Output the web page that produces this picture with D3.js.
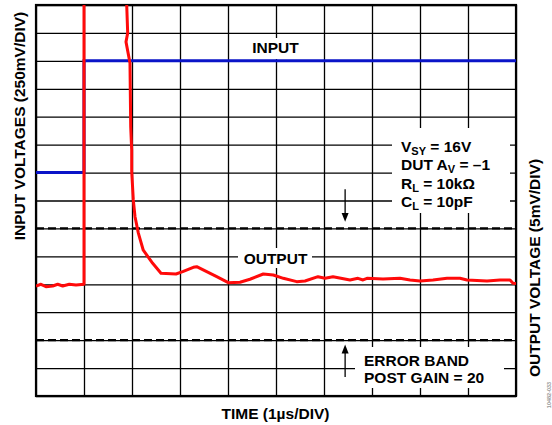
<!DOCTYPE html>
<html><head><meta charset="utf-8">
<script src="https://cdn.jsdelivr.net/npm/d3@7"></script>
<style>
body{margin:0;background:#fff;}
text{font-family:"Liberation Sans",Arial,sans-serif;font-weight:bold;}
</style></head><body>
<svg id="c" width="552" height="425"></svg>
<script>
// time in µs (1 µs/div)
const inputTime = [0, 1, 1, 10];
// input voltage, V (250 mV/div)
const inputVolts = [2.0, 2.0, 3.0, 3.0];
// output time, µs
const outputTime = [0,0.104,0.208,0.348,0.452,0.556,0.694,0.833,1.0,1.0,1.88,
  1.89,1.91,1.875,1.958,1.973,1.994,1.994,2.027,2.063,2.131,2.235,2.431,2.604,2.917,3.056,3.277,3.348,
  3.556,3.765,4.006,4.25,4.458,4.735,4.944,5.152,5.431,5.604,5.875,6.021,6.188,6.542,6.708,6.813,6.896,
  7.229,7.583,7.792,8.0,8.271,8.563,8.833,8.979,9.396,9.667,9.875,9.938,10.0];
// output deviation, mV (5 mV/div)
const outputMilliVolts = [-0.30,0,-0.43,-0.30,0,-0.30,0,-0.13,0,60,60,
  50,45,43.4,39.6,28.2,24.0,20.2,15.1,12.1,9.2,6.1,3.76,1.97,1.84,2.26,3.04,3.15,
  2.26,1.36,0.29,0.36,0.90,1.84,1.66,1.07,0.47,0.59,1.36,1.07,1.36,0.77,1.07,0.77,1.07,
  0.95,1.07,0.77,0.59,0.77,1.07,1.07,0.77,0.59,0.77,0.77,0.18,0.14];
const errorBand = [10, -10];
const xGridTicks = [0,1,2,3,4,5,6,7,8,9,10];
const yGridTicks = [0,0.25,0.5,0.75,1,1.25,1.5,1.75,2,2.25,2.5,2.75,3,3.25,3.5];
const annotation = [["V","SY"," = 16V"],["DUT A","V"," = –1"],["R","L"," = 10kΩ"],["C","L"," = 10pF"]];

const L=36,T=5,R=516,B=396,FS=15.5;
const svg=d3.select("#c");
const x=d3.scaleLinear().domain([0,10]).range([L,R]);
const yIn=d3.scaleLinear().domain([0,3.5]).range([B,T]);
const yOut=d3.scaleLinear().domain([-20,50]).range([B,T]);

// grid
svg.append("g").attr("transform",`translate(0,${B})`)
  .call(d3.axisBottom(x).tickValues(xGridTicks).tickSize(-(B-T)).tickFormat(""))
  .call(g=>{g.select(".domain").remove();g.selectAll("line").attr("stroke","#000").attr("stroke-width",1.3);});
svg.append("g").attr("transform",`translate(${L},0)`)
  .call(d3.axisLeft(yIn).tickValues(yGridTicks).tickSize(-(R-L)).tickFormat(""))
  .call(g=>{g.select(".domain").remove();g.selectAll("line").attr("stroke","#000").attr("stroke-width",1.3);});

// error band dashed lines
svg.selectAll(".eb").data(errorBand).join("line")
  .attr("x1",L).attr("x2",R).attr("y1",d=>yOut(d)).attr("y2",d=>yOut(d))
  .attr("stroke","#000").attr("stroke-width",2.2).attr("stroke-dasharray","8,4");

// white label boxes
const boxes=[[250,38,52,21],[238,248,74,20],[392,128,118,85],[355,347,149,41]];
svg.selectAll(".bx").data(boxes).join("rect")
  .attr("x",d=>d[0]).attr("y",d=>d[1]).attr("width",d=>d[2]).attr("height",d=>d[3]).attr("fill","#fff");

// border
svg.append("rect").attr("x",L).attr("y",T).attr("width",R-L).attr("height",B-T)
  .attr("fill","none").attr("stroke","#000").attr("stroke-width",2.2);

// labels inside
svg.append("text").attr("x",275.5).attr("y",53).attr("text-anchor","middle").attr("font-size",FS).text("INPUT");
svg.append("text").attr("x",275.5).attr("y",263.5).attr("text-anchor","middle").attr("font-size",FS).text("OUTPUT");
const ann=svg.append("text").attr("font-size",FS);
annotation.forEach((a,i)=>{
  const t=ann.append("tspan").attr("x",401).attr("y",152+i*18.3);
  t.append("tspan").text(a[0]);
  t.append("tspan").attr("font-size",11).attr("dy",3).text(a[1]);
  t.append("tspan").attr("dy",-3).text(a[2]);
});
svg.append("text").attr("x",364).attr("y",365.5).attr("font-size",FS).text("ERROR BAND");
svg.append("text").attr("x",364).attr("y",382.5).attr("font-size",FS).text("POST GAIN = 20");

// arrows
const ax=x(6.44);
svg.append("line").attr("x1",ax).attr("x2",ax).attr("y1",yOut(17)).attr("y2",yOut(12.6)).attr("stroke","#000").attr("stroke-width",1.3);
svg.append("path").attr("d",`M${ax-3.5},${yOut(12.6)-1}L${ax+3.5},${yOut(12.6)-1}L${ax},${yOut(11.2)}Z`).attr("fill","#000");
svg.append("line").attr("x1",ax).attr("x2",ax).attr("y1",yOut(-16.6)).attr("y2",yOut(-12.2)).attr("stroke","#000").attr("stroke-width",1.3);
svg.append("path").attr("d",`M${ax-3.5},${yOut(-12.2)+1}L${ax+3.5},${yOut(-12.2)+1}L${ax},${yOut(-10.8)}Z`).attr("fill","#000");

// traces
svg.append("clipPath").attr("id","clip").append("rect").attr("x",L).attr("y",T).attr("width",R-L).attr("height",B-T);
const inLine=d3.line().x((d,i)=>x(inputTime[i])).y(d=>yIn(d));
svg.append("path").attr("d",inLine(inputVolts)).attr("fill","none").attr("stroke","#0a14c8").attr("stroke-width",3).attr("clip-path","url(#clip)");
const outLine=d3.line().x((d,i)=>x(outputTime[i])).y(d=>yOut(d)).curve(d3.curveLinear);
svg.append("path").attr("d",outLine(outputMilliVolts)).attr("fill","none").attr("stroke","#ff0a0a").attr("stroke-width",3)
  .attr("stroke-linejoin","round").attr("clip-path","url(#clip)");

// axis titles
svg.append("text").attr("transform","translate(25,126) rotate(-90)").attr("text-anchor","middle").attr("font-size",FS).text("INPUT VOLTAGES (250mV/DIV)");
svg.append("text").attr("transform","translate(539.5,268) rotate(-90)").attr("text-anchor","middle").attr("font-size",FS).text("OUTPUT VOLTAGE (5mV/DIV)");
svg.append("text").attr("x",275.5).attr("y",419).attr("text-anchor","middle").attr("font-size",FS).text("TIME (1µs/DIV)");
svg.append("text").attr("transform","translate(551,395) rotate(-90)").attr("text-anchor","middle").attr("font-size",5.5).attr("font-weight","normal").attr("fill","#999").text("10482-033");
</script></body></html>
